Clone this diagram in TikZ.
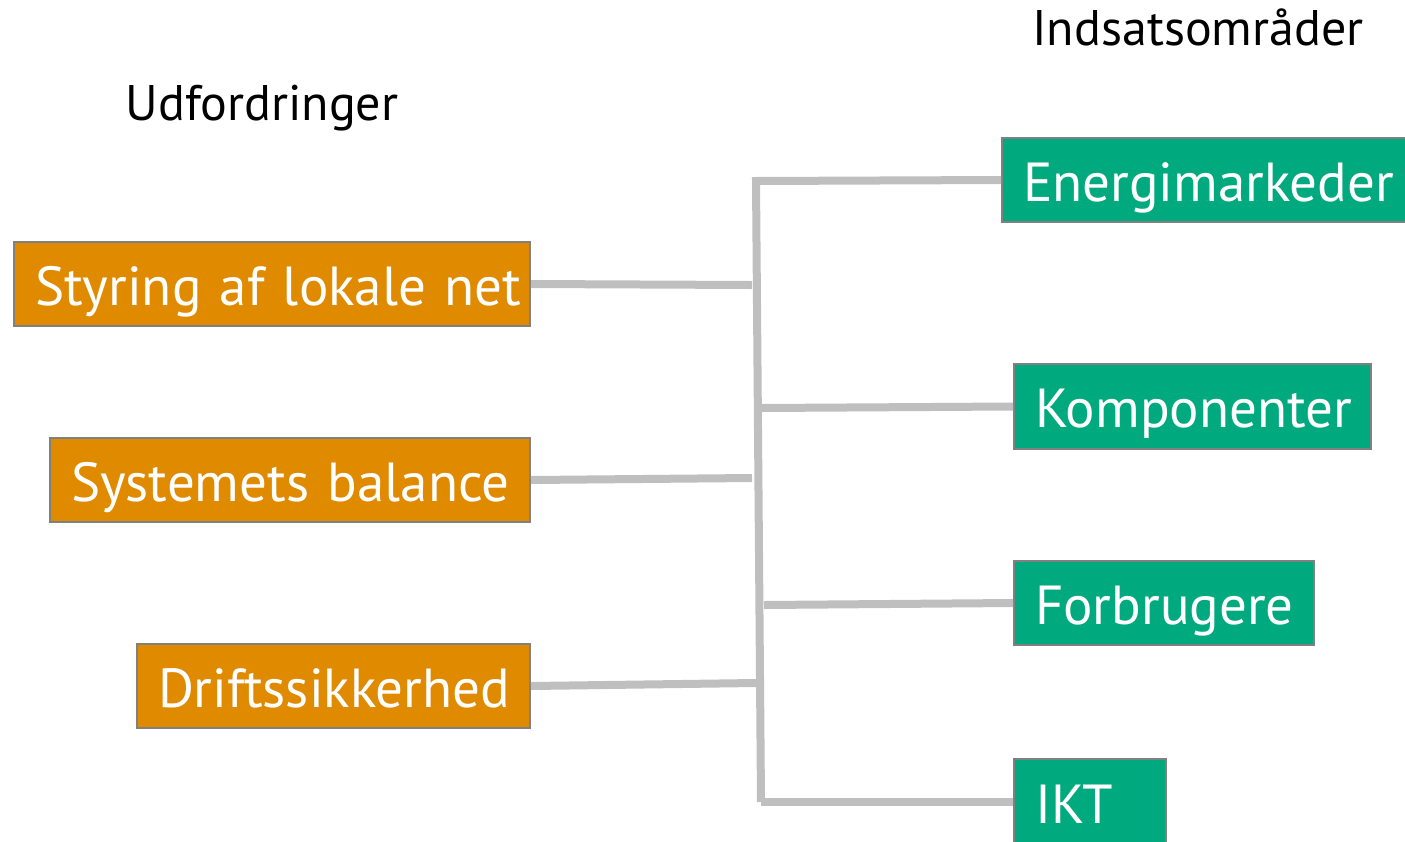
\documentclass[tikz,border=0pt]{standalone}
\usepackage{fontspec}
\setmainfont{PT Sans}
\definecolor{oran}{HTML}{E08A00}
\definecolor{gren}{HTML}{00AA7E}
\definecolor{bord}{HTML}{808080}
\definecolor{conn}{HTML}{BFBFBF}
\tikzset{
  box/.style={draw=bord, line width=2pt, anchor=north west, inner xsep=0pt, inner ysep=0pt,
    text=white, font=\fontsize{55}{60}\selectfont, align=left, text height=42pt, text depth=0pt},
  obox/.style={box, fill=oran},
  gbox/.style={box, fill=gren},
  con/.style={draw=conn, line width=8pt},
  ttl/.style={font=\fontsize{50}{56}\selectfont, text=black, anchor=base}
}
\begin{document}
\begin{tikzpicture}[x=1pt,y=-1pt]
\useasboundingbox (0,0) rectangle (1405,841);
% left boxes
\node[obox, minimum width=516, minimum height=84, text width=516] (s1) at (13,241) {\hspace*{21pt}Styring af lokale net};
\node[obox, minimum width=480, minimum height=84, text width=480] (s2) at (49,437) {\hspace*{21pt}Systemets balance};
\node[obox, minimum width=393, minimum height=84, text width=393] (s3) at (136,643) {\hspace*{21pt}Driftssikkerhed};
% right boxes
\node[gbox, minimum width=410, minimum height=84, text width=410] (g1) at (1001,137) {\hspace*{21pt}Energimarkeder};
\node[gbox, minimum width=357, minimum height=85, text width=357] (g2) at (1013,363) {\hspace*{21pt}Komponenter};
\node[gbox, minimum width=300, minimum height=84, text width=300] (g3) at (1013,560) {\hspace*{21pt}Forbrugere};
\node[gbox, minimum width=152, minimum height=86, text width=152] (g4) at (1013,758) {\hspace*{21pt}IKT};
% titles
\node[ttl] (t1) at (262,120) {Udfordringer};
\node[ttl] (t2) at (1198,45) {Indsatsområder};
% connector junctions
\coordinate (j1) at (752,285);
\coordinate (j2) at (752,478);
\coordinate (j3) at (756,683);
\coordinate (vt) at (756,181);
\coordinate (vb) at (761,802);
\coordinate (k1) at (762,408);
\coordinate (k2) at (764,605);
\draw[con] (s1.east) -- (j1);
\draw[con] (s2.east) -- (j2);
\draw[con] (s3.east) -- (j3);
\draw[con] (vb) -- (vt) -- (g1.west);
\draw[con] (k1) -- (g2.west);
\draw[con] (k2) -- (g3.west);
\draw[con] (vb) -- (g4.west |- vb);
\end{tikzpicture}
\end{document}
